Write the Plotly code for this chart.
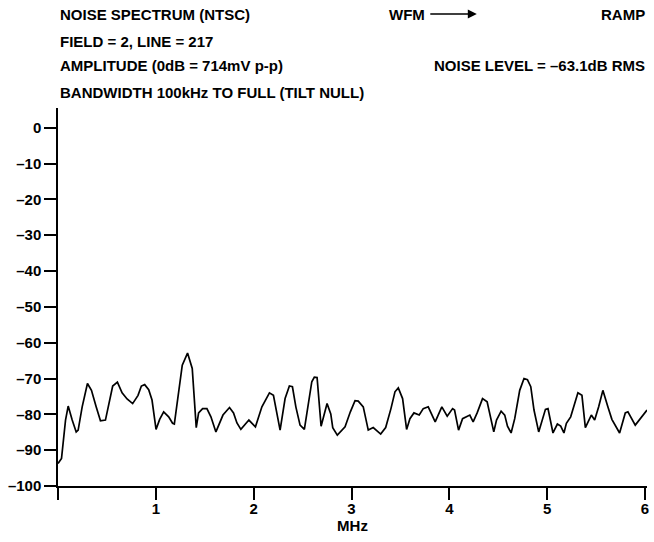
import plotly.graph_objects as go

# spectrum trace (MHz, dB)
freq_mhz = [
    0.0, 0.036, 0.077, 0.104, 0.145, 0.186, 0.206, 0.247, 0.301, 0.342,
    0.390, 0.434, 0.485, 0.518, 0.559, 0.607, 0.655, 0.706, 0.763, 0.818,
    0.852, 0.886, 0.927, 0.961, 1.002, 1.039, 1.080, 1.131, 1.171, 1.189,
    1.233, 1.270, 1.324, 1.372, 1.413, 1.437, 1.478, 1.522, 1.563, 1.614,
    1.686, 1.753, 1.794, 1.829, 1.869, 1.951, 2.018, 2.084, 2.161, 2.202,
    2.270, 2.321, 2.365, 2.396, 2.431, 2.474, 2.518, 2.553, 2.594, 2.620,
    2.648, 2.689, 2.750, 2.788, 2.808, 2.855, 2.934, 2.988, 3.036, 3.069,
    3.120, 3.171, 3.222, 3.298, 3.349, 3.403, 3.444, 3.478, 3.512, 3.522,
    3.563, 3.597, 3.638, 3.692, 3.733, 3.784, 3.855, 3.923, 3.978, 4.033,
    4.053, 4.094, 4.135, 4.168, 4.209, 4.243, 4.284, 4.339, 4.386, 4.454,
    4.482, 4.529, 4.566, 4.594, 4.631, 4.668, 4.719, 4.763, 4.798, 4.832,
    4.865, 4.913, 4.982, 5.008, 5.059, 5.104, 5.138, 5.171, 5.196, 5.240,
    5.314, 5.355, 5.390, 5.451, 5.485, 5.526, 5.569, 5.620, 5.661, 5.740,
    5.798, 5.825, 5.900, 6.02,
]
level_db = [
    -93.7, -92.3, -81.6, -77.7, -81.6, -84.9, -84.4, -77.9, -71.4, -73.3,
    -77.9, -81.8, -81.6, -77.4, -72.1, -71.0, -74.0, -75.7, -77.0, -74.7,
    -72.1, -71.7, -73.1, -76.0, -84.2, -81.4, -79.3, -80.7, -82.5, -82.7,
    -73.3, -66.3, -62.9, -67.2, -83.7, -79.6, -78.4, -78.4, -80.7, -84.9,
    -80.2, -78.1, -79.6, -82.4, -84.2, -81.6, -83.5, -77.9, -74.0, -74.7,
    -84.4, -75.6, -72.1, -72.3, -77.9, -83.0, -84.2, -77.9, -70.9, -69.6,
    -69.7, -83.3, -77.0, -79.9, -83.7, -85.8, -83.5, -79.3, -76.2, -76.3,
    -77.9, -84.4, -83.7, -85.5, -83.7, -78.4, -73.7, -72.6, -74.7, -75.6,
    -84.2, -81.2, -79.6, -80.2, -78.4, -77.9, -82.1, -77.9, -80.5, -78.4,
    -78.8, -84.4, -81.2, -80.7, -80.2, -82.1, -79.6, -75.6, -76.5, -84.9,
    -81.6, -79.1, -80.2, -83.3, -85.2, -81.2, -73.3, -70.0, -70.3, -72.3,
    -78.8, -84.9, -78.6, -78.4, -85.2, -82.7, -83.3, -85.2, -82.5, -80.7,
    -74.0, -74.7, -83.7, -80.2, -81.6, -77.9, -73.3, -77.9, -81.4, -85.2,
    -79.6, -79.3, -83.0, -78.8,
]

x_ticks = [0, 1, 2, 3, 4, 5, 6]
x_ticktext = ["", "1", "2", "3", "4", "5", "6"]
y_ticks = [0, -10, -20, -30, -40, -50, -60, -70, -80, -90, -100]
y_ticktext = ["0", "–10", "–20", "–30", "–40", "–50", "–60", "–70", "–80", "–90", "–100"]

W, H = 654, 542
L, R, T, B = 57.5, 6.5, 108, 56
FONT = "Liberation Sans, Arial, sans-serif"
FS = 15


def px(x):
    return (x - L) / (W - L - R)


def py(y):
    return (H - B - y) / (H - T - B)


fig = go.Figure(go.Scatter(
    x=freq_mhz, y=level_db, mode="lines",
    line=dict(color="black", width=1.7),
    hoverinfo="skip",
))

header = [
    ("NOISE SPECTRUM (NTSC)", 58, 14, "left"),
    ("RAMP", 648, 14, "right"),
    ("FIELD = 2, LINE = 217", 58, 41, "left"),
    ("AMPLITUDE (0dB = 714mV p-p)", 58, 66, "left"),
    ("NOISE LEVEL = –63.1dB RMS", 648, 66, "right"),
    ("BANDWIDTH 100kHz TO FULL (TILT NULL)", 58, 92, "left"),
]
for txt, x, y, anchor in header:
    fig.add_annotation(
        text=f"<b>{txt}</b>", xref="paper", yref="paper",
        x=px(x), y=py(y), xanchor=anchor, yanchor="middle",
        showarrow=False, font=dict(family=FONT, size=FS, color="black"),
    )

# WFM with its arrow
fig.add_annotation(
    text="<b>WFM</b>", xref="paper", yref="paper",
    x=px(477), y=py(14), ax=407 - 477, ay=0,
    showarrow=True, arrowhead=2, arrowsize=1.2, arrowwidth=1.5,
    arrowcolor="black", standoff=0, startstandoff=4,
    font=dict(family=FONT, size=FS, color="black"),
)

axis_common = dict(
    showline=True, linecolor="black", linewidth=1.5,
    ticks="outside", ticklen=12, tickwidth=1.5, tickcolor="black",
    showgrid=False, zeroline=False, automargin=False,
    tickfont=dict(family=FONT, size=FS, color="black"),
)

fig.update_layout(
    width=W, height=H,
    paper_bgcolor="white", plot_bgcolor="white",
    margin=dict(l=L, r=R, t=T, b=B),
    showlegend=False,
    font=dict(family=FONT, size=FS, color="black"),
    xaxis=dict(
        range=[0, 6.02], tickmode="array", tickvals=x_ticks, ticktext=[f"<b>{t}</b>" for t in x_ticktext],
        ticklabelstandoff=-4,
        title=dict(text="<b>MHz</b>", font=dict(family=FONT, size=FS), standoff=4),
        **axis_common,
    ),
    yaxis=dict(
        range=[-100, 5.5], tickmode="array", tickvals=y_ticks, ticktext=[f"<b>{t}</b>" for t in y_ticktext],
        **axis_common,
    ),
)

# drop the browser's default body margin so the figure fills the window exactly
fig.write_html(
    "out.html",
    config={"displayModeBar": False},
    post_script="document.body.style.margin = '0'; document.body.style.overflow = 'hidden';",
)
